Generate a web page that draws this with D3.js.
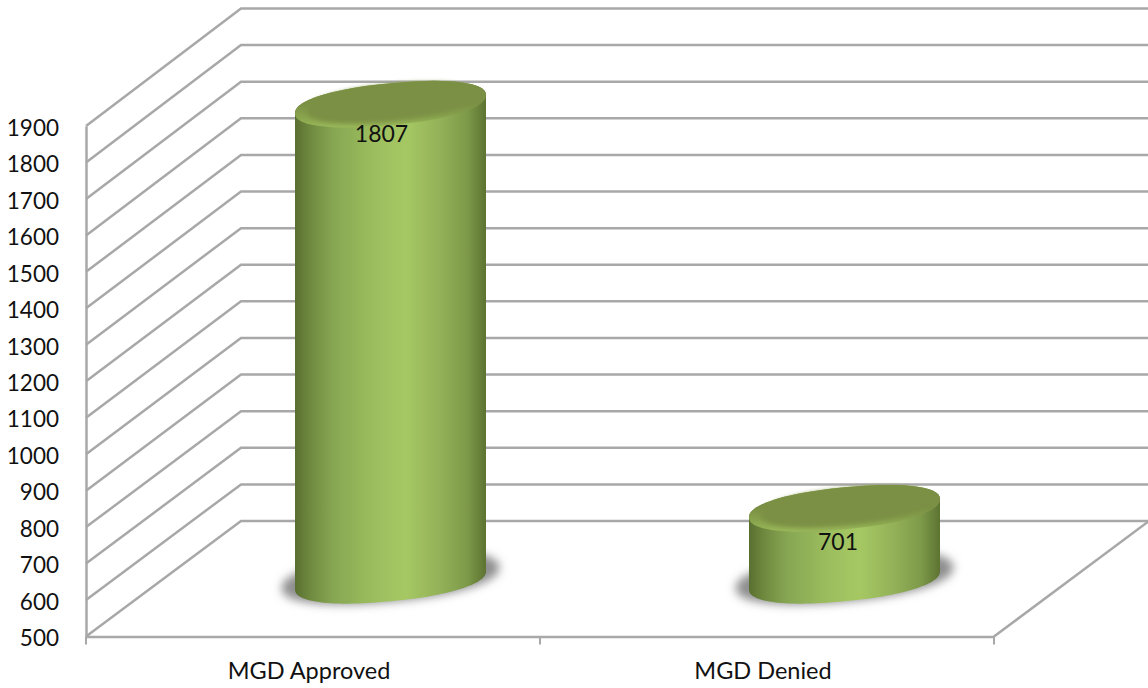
<!DOCTYPE html>
<html>
<head>
<meta charset="utf-8">
<script src="https://cdn.jsdelivr.net/npm/d3@7"></script>
<style>
  html, body { margin: 0; padding: 0; background: #fff; }
  svg { display: block; }
  text { font-family: Lato, "Open Sans", sans-serif; fill: #111; }
</style>
</head>
<body>
<div id="chart"></div>
<script>
var categories = ['MGD Approved', 'MGD Denied'];
var values = [1807, 701];
var yTicks = [500, 600, 700, 800, 900, 1000, 1100, 1200, 1300, 1400, 1500, 1600, 1700, 1800, 1900];

var width = 1148, height = 688;

// front plane of the 3d box, back wall is the same thing pushed by depth
var left = 86, right = 994;
var depthX = 155;

var yFront = d3.scaleLinear().domain([500, 1900]).range([636.5, 126]);
var yBack = d3.scaleLinear().domain([500, 1900]).range([521, 8.5]);
var x = d3.scaleBand().domain(categories).range([left, right]);

var gridColor = '#a8a8a8';

var svg = d3.select('#chart').append('svg')
  .attr('width', width)
  .attr('height', height);

var defs = svg.append('defs');

var side = defs.append('linearGradient').attr('id', 'side');
[[0, '#596f30'], [0.08, '#6f8a3f'], [0.2, '#87a653'], [0.42, '#9dbe5e'], [0.58, '#a6c863'], [0.76, '#93b158'], [0.9, '#7d9a49'], [1, '#5d7332']]
  .forEach(function(s) {
    side.append('stop').attr('offset', s[0]).attr('stop-color', s[1]);
  });

var rim = defs.append('linearGradient').attr('id', 'rim')
  .attr('x1', 0).attr('y1', 1).attr('x2', 0).attr('y2', 0);
[[0, '#9ab85a'], [0.2, '#8aa64e'], [0.5, '#7b9044'], [1, '#7b9044']]
  .forEach(function(s) {
    rim.append('stop').attr('offset', s[0]).attr('stop-color', s[1]);
  });

defs.append('filter').attr('id', 'blur')
  .attr('x', '-20%').attr('y', '-50%').attr('width', '140%').attr('height', '200%')
  .append('feGaussianBlur').attr('stdDeviation', 5);

defs.append('filter').attr('id', 'soft')
  .attr('x', '-10%').attr('y', '-30%').attr('width', '120%').attr('height', '160%')
  .append('feGaussianBlur').attr('stdDeviation', 2.2);

// grid: wall lines, floor edges
var grid = svg.append('g')
  .attr('fill', 'none')
  .attr('stroke', gridColor)
  .attr('stroke-width', 2.5);

grid.selectAll('path.wall')
  .data(yTicks)
  .enter()
  .append('path')
  .attr('class', 'wall')
  .attr('d', function(d) {
    return 'M' + left + ',' + yFront(d) + 'L' + (left + depthX) + ',' + yBack(d) + 'L' + width + ',' + yBack(d);
  });

grid.append('path')
  .attr('d', 'M' + right + ',' + yFront(500) + 'L' + (right + depthX) + ',' + yBack(500));

// axes
var yAxis = d3.axisLeft(yFront)
  .tickValues(yTicks)
  .tickFormat(d3.format('d'))
  .tickSize(0)
  .tickPadding(27);

var yg = svg.append('g')
  .attr('transform', 'translate(' + left + ',0)')
  .call(yAxis);
yg.select('.domain').attr('stroke', gridColor).attr('stroke-width', 2.5);
yg.selectAll('text').style('font-size', '22.5px').attr('dy', '0.41em');

var xAxis = d3.axisBottom(x)
  .tickSize(0)
  .tickPadding(26);

var xg = svg.append('g')
  .attr('transform', 'translate(0,' + yFront(500) + ')')
  .call(xAxis);
xg.select('.domain').attr('stroke', gridColor).attr('stroke-width', 2.5);
xg.selectAll('text').style('font-size', '23.5px').attr('dx', -4);

// boundary ticks, the axis only ticks band centres
xg.selectAll('line.edge')
  .data(d3.range(categories.length + 1))
  .enter()
  .append('line')
  .attr('class', 'edge')
  .attr('x1', function(i) { return left + i * x.step(); })
  .attr('x2', function(i) { return left + i * x.step(); })
  .attr('y1', 0)
  .attr('y2', 8)
  .attr('stroke', gridColor)
  .attr('stroke-width', 2);

// cylinders sit half way into the box
function barX(d) { return x(d) + x.bandwidth() / 2 + depthX / 2; }
function barY(v) { return (yFront(v) + yBack(v)) / 2; }

// slightly squared ellipse, sheared so the right side rides higher
var halfW = 95.5, halfH = 21, shear = -0.095, power = 0.9;
var topDrop = 3, baseDrop = 1.5;

function pow(c) { return (c < 0 ? -1 : 1) * Math.pow(Math.abs(c), power); }

function rimPoint(t, scale) {
  var u = halfW * scale * pow(Math.cos(t));
  var v = halfH * scale * pow(Math.sin(t));
  return [u, v + shear * u];
}

var outline = d3.line();

// t from a to b, in 60 steps, around a cap centred at cy
function capPoints(a, b, cy, scale) {
  return d3.range(61).map(function(i) {
    var p = rimPoint(a + (b - a) * i / 60, scale);
    return [p[0], p[1] + cy];
  });
}

var bars = svg.selectAll('g.bar')
  .data(categories.map(function(c, i) { return { name: c, value: values[i] }; }))
  .enter()
  .append('g')
  .attr('class', 'bar')
  .attr('transform', function(d) { return 'translate(' + barX(d.name) + ',0)'; });

// shadow
bars.append('path')
  .attr('fill', '#8e8e8e')
  .attr('filter', 'url(#blur)')
  .attr('d', function() {
    return outline(capPoints(0, 2 * Math.PI, barY(500) - 1, 1.14)) + 'Z';
  });

// body: back of the top cap, then the front of the base cap
bars.append('path')
  .attr('fill', 'url(#side)')
  .attr('d', function(d) {
    var up = capPoints(Math.PI, 2 * Math.PI, barY(d.value) + topDrop, 1);
    var down = capPoints(0, Math.PI, barY(500) + baseDrop, 1);
    return outline(up.concat(down)) + 'Z';
  });

// top, a lit rim with the flat face over it
bars.append('path')
  .attr('fill', 'url(#rim)')
  .attr('d', function(d) {
    return outline(capPoints(0, 2 * Math.PI, barY(d.value) + topDrop, 1)) + 'Z';
  });

bars.append('path')
  .attr('fill', '#7b9044')
  .attr('filter', 'url(#soft)')
  .attr('d', function(d) {
    return outline(capPoints(0, 2 * Math.PI, barY(d.value) + topDrop - 1.5, 0.88)) + 'Z';
  });

// data labels
var labelDx = [-9, -6.5], labelDy = [32, 36];

bars.append('text')
  .attr('x', function(d, i) { return labelDx[i]; })
  .attr('y', function(d, i) { return barY(d.value) + labelDy[i]; })
  .attr('dy', '0.36em')
  .attr('text-anchor', 'middle')
  .style('font-size', '23px')
  .text(function(d) { return d.value; });
</script>
</body>
</html>
